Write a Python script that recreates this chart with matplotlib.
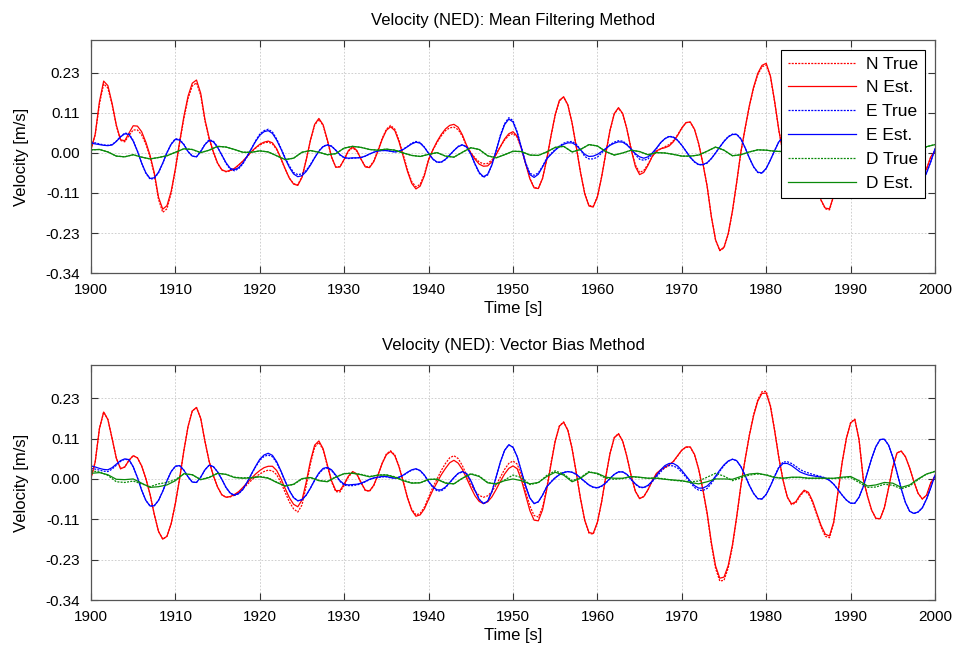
import numpy as np
import matplotlib
matplotlib.use("Agg")
import matplotlib.pyplot as plt
from matplotlib.ticker import FixedLocator, FormatStrFormatter

plt.rcParams['font.family'] = ['Liberation Sans', 'DejaVu Sans']
plt.rcParams['axes.unicode_minus'] = False

# sample times: 0.5 s for N and E, 1 s for D
t_half = np.arange(1900, 2000.25, 0.5)
t_one = np.arange(1900, 2001)

# ---------------- Mean Filtering Method (top) ----------------
n_est_top = [
 .010, .054, .147, .206, .193, .142, .080, .038, .035, .057,
 .078, .077, .061, .031, -.007, -.057, -.127, -.161, -.151, -.110,
 -.045, .032, .104, .163, .200, .209, .171, .096, .043, .003,
 -.029, -.048, -.053, -.050, -.044, -.034, -.023, -.010, .004, .015,
 .025, .031, .034, .029, .012, -.015, -.045, -.072, -.089, -.093,
 -.070, -.020, .037, .082, .099, .081, .038, -.011, -.041, -.040,
 -.018, .007, .018, .007, -.018, -.040, -.042, -.025, .005, .039,
 .065, .075, .064, .032, -.010, -.053, -.087, -.103, -.095, -.065,
 -.020, .009, .033, .053, .069, .079, .082, .074, .052, .022,
 .000, -.018, -.032, -.038, -.037, -.025, -.005, .018, .040, .055,
 .061, .048, .014, -.031, -.074, -.100, -.102, -.073, -.018, .049,
 .110, .151, .161, .138, .086, .017, -.056, -.117, -.152, -.155,
 -.126, -.069, .000, .066, .113, .130, .113, .068, .010, -.039,
 -.062, -.056, -.035, -.010, .006, .012, .015, .020, .032, .050,
 .071, .087, .089, .068, .027, -.030, -.095, -.182, -.249, -.279,
 -.270, -.231, -.166, -.084, .003, .071, .135, .188, .228, .251,
 .257, .221, .148, .065, .000, -.048, -.069, -.065, -.045, -.033,
 -.040, -.065, -.095, -.135, -.158, -.160, -.122, -.039, .047, .115,
 .159, .169, .112, .000, -.049, -.089, -.112, -.113, -.082, -.026,
 .034, .074, .079, .063, .031, -.008, -.041, -.057, -.046, -.011,
 .005]
n_true_top = [
 .010, .052, .140, .198, .186, .138, .078, .036, .032, .050,
 .066, .066, .052, .025, -.012, -.062, -.133, -.170, -.160, -.115,
 -.048, .028, .098, .156, .192, .201, .165, .092, .040, .001,
 -.030, -.049, -.054, -.051, -.045, -.035, -.024, -.011, .003, .014,
 .023, .029, .031, .026, .010, -.017, -.046, -.072, -.088, -.091,
 -.068, -.019, .036, .080, .096, .079, .036, -.012, -.040, -.039,
 -.019, .005, .015, .005, -.018, -.039, -.040, -.023, .008, .042,
 .068, .079, .068, .036, -.005, -.048, -.082, -.097, -.090, -.061,
 -.018, .008, .030, .049, .064, .072, .074, .067, .048, .020,
 .001, -.014, -.026, -.031, -.030, -.020, -.002, .018, .037, .050,
 .056, .045, .012, -.031, -.073, -.099, -.101, -.073, -.018, .048,
 .108, .149, .160, .137, .086, .017, -.055, -.115, -.150, -.153,
 -.125, -.068, .000, .065, .112, .128, .112, .068, .012, -.034,
 -.056, -.050, -.032, -.010, .004, .012, .018, .024, .035, .052,
 .072, .087, .088, .068, .026, -.030, -.095, -.182, -.249, -.280,
 -.272, -.233, -.168, -.086, .002, .069, .133, .185, .224, .247,
 .252, .218, .146, .064, .000, -.048, -.069, -.065, -.045, -.033,
 -.040, -.065, -.095, -.136, -.160, -.163, -.123, -.039, .047, .115,
 .159, .169, .112, .000, -.049, -.089, -.112, -.113, -.082, -.026,
 .034, .074, .079, .063, .031, -.008, -.041, -.057, -.046, -.011,
 .005]
e_est_top = [
 .028, .026, .024, .022, .021, .023, .033, .046, .055, .053,
 .034, .005, -.029, -.057, -.073, -.071, -.055, -.029, .001, .025,
 .039, .037, .024, .004, -.009, -.011, .004, .024, .036, .032,
 .016, -.006, -.028, -.044, -.048, -.042, -.029, -.009, .012, .033,
 .051, .061, .064, .056, .037, .012, -.016, -.041, -.060, -.068,
 -.065, -.053, -.035, -.014, .005, .018, .023, .019, .008, -.005,
 -.013, -.015, -.014, -.014, -.013, -.009, -.003, .002, .006, .007,
 .007, .005, .003, .005, .010, .018, .026, .031, .028, .016,
 -.001, -.017, -.026, -.026, -.018, -.006, .007, .018, .023, .017,
 -.003, -.031, -.056, -.068, -.061, -.034, .006, .048, .081, .097,
 .089, .058, .014, -.031, -.062, -.070, -.061, -.040, -.017, -.004,
 .008, .018, .025, .029, .029, .022, .009, -.004, -.010, -.009,
 -.004, .004, .013, .022, .028, .032, .031, .023, .011, -.002,
 -.011, -.015, -.011, .000, .014, .030, .041, .047, .045, .036,
 .022, .005, -.012, -.025, -.033, -.033, -.028, -.016, .000, .017,
 .033, .046, .053, .053, .040, .015, -.014, -.039, -.055, -.057,
 -.044, -.020, .007, .032, .044, .044, .038, .030, .022, .015,
 .011, .008, .006, .003, .000, -.004, -.015, -.030, -.046, -.060,
 -.069, -.069, -.052, -.022, .018, .059, .092, .112, .113, .096,
 .062, .018, -.028, -.067, -.092, -.098, -.094, -.082, -.057, -.025,
 .012]
e_true_top = [
 .031, .029, .026, .023, .022, .024, .034, .047, .057, .055,
 .036, .006, -.029, -.058, -.075, -.073, -.057, -.030, .001, .026,
 .041, .039, .025, .004, -.009, -.011, .005, .025, .038, .034,
 .017, -.006, -.030, -.047, -.051, -.045, -.031, -.010, .012, .035,
 .054, .064, .068, .060, .040, .014, -.013, -.037, -.056, -.062,
 -.060, -.050, -.033, -.013, .006, .019, .024, .020, .008, -.006,
 -.014, -.016, -.015, -.014, -.013, -.009, -.003, .002, .006, .007,
 .007, .005, .003, .005, .011, .019, .028, .033, .030, .017,
 -.001, -.018, -.027, -.027, -.019, -.006, .007, .019, .024, .018,
 -.003, -.033, -.058, -.070, -.063, -.035, .007, .051, .084, .101,
 .093, .060, .016, -.028, -.058, -.064, -.057, -.038, -.015, -.002,
 .010, .020, .028, .032, .033, .025, .010, -.010, -.017, -.017,
 -.012, .000, .012, .024, .031, .035, .034, .025, .011, -.005,
 -.018, -.021, -.017, -.003, .012, .029, .041, .048, .046, .037,
 .022, .005, -.013, -.026, -.034, -.034, -.029, -.016, .000, .017,
 .034, .047, .054, .054, .041, .015, -.014, -.040, -.056, -.058,
 -.045, -.020, .007, .033, .046, .047, .040, .032, .024, .018,
 .015, .012, .010, .006, .002, -.004, -.015, -.030, -.046, -.060,
 -.069, -.069, -.052, -.022, .018, .059, .092, .112, .113, .096,
 .062, .018, -.028, -.067, -.092, -.098, -.094, -.082, -.057, -.025,
 .012]
d_est_top = [
 .009, .010, .003, -.009, -.011, -.005, -.012, -.017, -.013, -.008,
 .002, .012, .010, .001, .008, .019, .017, .010, .002, .002,
 .006, .003, -.008, -.019, -.015, .002, .007, .002, -.005, -.002,
 .014, .019, .016, .010, .008, .011, .008, .000, -.007, -.010,
 -.004, .001, -.009, -.012, .002, .015, .010, -.008, -.014, -.005,
 .005, .004, -.006, -.007, .003, .016, .019, .003, .010, .024,
 .020, .004, -.006, .000, .008, .004, -.005, .001, .000, -.004,
 -.009, -.009, -.006, .005, .017, .008, -.008, -.005, .003, .009,
 .008, .005, .004, .004, .005, .006, .006, .005, .004, .002,
 -.002, -.012, -.020, -.016, -.010, -.015, -.023, -.018, .000, .018,
 .024]
d_true_top = [
 .009, .010, .003, -.009, -.011, -.005, -.012, -.017, -.013, -.008,
 .002, .012, .010, .001, .008, .019, .017, .010, .002, .002,
 .006, .003, -.008, -.019, -.015, .002, .007, .002, -.005, -.002,
 .014, .019, .016, .010, .008, .011, .008, .000, -.007, -.010,
 -.004, .001, -.009, -.012, .002, .015, .010, -.008, -.014, -.005,
 .005, .004, -.006, -.007, .003, .016, .019, .003, .010, .024,
 .020, .004, -.006, .000, .008, .004, -.005, .001, .000, -.004,
 -.009, -.009, -.006, .005, .017, .008, -.008, -.005, .003, .009,
 .008, .005, .004, .004, .005, .006, .006, .005, .004, .002,
 -.002, -.012, -.020, -.016, -.010, -.015, -.023, -.018, .000, .018,
 .024]

# ---------------- Vector Bias Method (bottom) ----------------
n_est_bot = [
 .002, .049, .143, .190, .169, .115, .059, .029, .034, .053,
 .066, .060, .037, .001, -.044, -.101, -.149, -.171, -.163, -.127,
 -.069, .001, .080, .149, .193, .203, .172, .107, .050, .009,
 -.023, -.045, -.052, -.050, -.044, -.036, -.024, -.011, .002, .014,
 .024, .032, .036, .036, .024, .001, -.027, -.053, -.072, -.079,
 -.060, -.009, .051, .096, .108, .086, .041, -.005, -.033, -.033,
 -.014, .008, .021, .014, -.010, -.032, -.034, -.018, .011, .044,
 .069, .078, .066, .034, -.009, -.054, -.089, -.106, -.102, -.085,
 -.058, -.032, -.010, .012, .030, .046, .053, .045, .027, .002,
 -.024, -.048, -.064, -.070, -.065, -.051, -.030, -.007, .014, .030,
 .037, .029, -.003, -.047, -.090, -.117, -.119, -.088, -.030, .041,
 .107, .150, .161, .138, .086, .017, -.056, -.117, -.152, -.155,
 -.123, -.065, .007, .073, .117, .128, .107, .063, .009, -.035,
 -.056, -.050, -.030, -.005, .016, .026, .033, .040, .050, .066,
 .082, .091, .091, .070, .028, -.030, -.096, -.180, -.247, -.282,
 -.279, -.246, -.187, -.108, -.019, .055, .123, .179, .221, .243,
 .244, .206, .137, .060, -.004, -.051, -.071, -.065, -.046, -.032,
 -.038, -.063, -.098, -.132, -.157, -.162, -.122, -.039, .047, .115,
 .159, .169, .112, .000, -.049, -.089, -.112, -.113, -.082, -.026,
 .034, .074, .079, .063, .031, -.008, -.041, -.057, -.046, -.011,
 .007]
n_true_bot = [
 .002, .049, .143, .190, .169, .115, .059, .029, .034, .053,
 .066, .060, .037, .001, -.044, -.101, -.149, -.171, -.163, -.127,
 -.069, .001, .080, .149, .193, .203, .172, .107, .050, .009,
 -.023, -.045, -.052, -.051, -.046, -.039, -.028, -.016, -.004, .006,
 .014, .021, .025, .023, .012, -.010, -.038, -.065, -.085, -.094,
 -.074, -.020, .043, .090, .104, .083, .038, -.008, -.036, -.037,
 -.018, .006, .019, .013, -.011, -.033, -.035, -.019, .011, .045,
 .071, .080, .068, .036, -.007, -.052, -.086, -.102, -.098, -.080,
 -.052, -.024, .000, .024, .044, .060, .066, .058, .038, .011,
 -.015, -.035, -.047, -.052, -.048, -.036, -.017, .005, .027, .044,
 .051, .042, .010, -.035, -.077, -.104, -.108, -.081, -.025, .045,
 .109, .151, .162, .139, .087, .017, -.057, -.119, -.154, -.157,
 -.124, -.065, .007, .073, .118, .129, .108, .063, .009, -.035,
 -.055, -.050, -.031, -.006, .014, .024, .031, .039, .049, .065,
 .081, .090, .090, .069, .027, -.032, -.100, -.186, -.254, -.290,
 -.288, -.253, -.192, -.110, -.020, .055, .124, .182, .225, .248,
 .249, .209, .139, .061, -.004, -.052, -.073, -.068, -.049, -.035,
 -.042, -.067, -.102, -.137, -.163, -.167, -.125, -.040, .047, .116,
 .160, .170, .112, .000, -.049, -.089, -.112, -.113, -.082, -.026,
 .034, .074, .079, .063, .031, -.008, -.041, -.057, -.046, -.011,
 .007]
e_est_bot = [
 .037, .034, .030, .027, .026, .032, .042, .052, .057, .055,
 .035, .004, -.032, -.061, -.077, -.076, -.061, -.035, -.005, .021,
 .036, .038, .025, .006, -.009, -.010, .005, .026, .039, .035,
 .020, -.001, -.024, -.040, -.046, -.041, -.029, -.009, .014, .036,
 .056, .068, .073, .067, .049, .023, -.006, -.033, -.053, -.062,
 -.059, -.046, -.026, -.003, .017, .030, .033, .026, .011, -.005,
 -.015, -.017, -.016, -.015, -.012, -.007, -.001, .003, .005, .007,
 .007, .004, .002, .005, .011, .019, .026, .029, .024, .011,
 -.007, -.022, -.031, -.031, -.023, -.010, .004, .016, .021, .015,
 -.005, -.033, -.058, -.070, -.063, -.036, .005, .048, .081, .097,
 .090, .063, .022, -.020, -.054, -.070, -.065, -.046, -.022, -.009,
 .003, .012, .018, .021, .019, .013, .003, -.007, -.017, -.023,
 -.025, -.020, -.011, .002, .013, .020, .020, .013, -.001, -.014,
 -.023, -.024, -.018, -.006, .010, .026, .038, .044, .044, .037,
 .024, .009, -.006, -.019, -.026, -.026, -.020, -.008, .008, .025,
 .040, .051, .056, .052, .035, .010, -.018, -.041, -.056, -.057,
 -.044, -.020, .007, .032, .044, .044, .038, .029, .020, .015,
 .011, .009, .007, .005, .002, -.004, -.015, -.030, -.046, -.060,
 -.069, -.069, -.052, -.022, .018, .059, .092, .112, .113, .096,
 .062, .018, -.028, -.067, -.092, -.098, -.094, -.082, -.057, -.025,
 .011]
e_true_bot = [
 .030, .028, .025, .022, .021, .028, .039, .050, .056, .054,
 .034, .004, -.032, -.061, -.077, -.076, -.061, -.035, -.005, .021,
 .036, .038, .025, .006, -.009, -.010, .005, .026, .039, .035,
 .020, -.001, -.025, -.041, -.047, -.042, -.030, -.010, .013, .034,
 .053, .064, .068, .063, .046, .021, -.007, -.033, -.053, -.062,
 -.059, -.046, -.026, -.004, .015, .028, .031, .024, .009, -.007,
 -.018, -.019, -.019, -.017, -.014, -.008, -.002, .002, .004, .006,
 .006, .003, .002, .005, .010, .018, .025, .028, .023, .010,
 -.008, -.024, -.034, -.034, -.025, -.011, .003, .015, .020, .015,
 -.005, -.033, -.058, -.070, -.063, -.036, .005, .048, .081, .097,
 .090, .063, .022, -.020, -.054, -.070, -.065, -.046, -.022, -.008,
 .004, .013, .019, .021, .019, .013, .002, -.008, -.018, -.024,
 -.026, -.021, -.012, .001, .013, .020, .020, .013, -.002, -.015,
 -.024, -.025, -.019, -.008, .006, .020, .034, .038, .037, .031,
 .019, .005, -.010, -.024, -.032, -.033, -.027, -.013, .004, .022,
 .038, .050, .056, .052, .035, .010, -.018, -.041, -.056, -.057,
 -.044, -.020, .008, .034, .048, .049, .044, .036, .027, .021,
 .017, .013, .010, .007, .003, -.004, -.015, -.030, -.046, -.060,
 -.069, -.069, -.052, -.022, .018, .059, .092, .112, .113, .096,
 .062, .018, -.028, -.067, -.092, -.098, -.094, -.082, -.057, -.025,
 .011]
d_est_bot = [
 .016, .018, .012, -.001, -.002, .000, -.012, -.024, -.022, -.017,
 -.005, .015, .012, -.002, .004, .016, .013, .004, .002, .003,
 .006, .002, -.010, -.020, -.015, .001, .004, -.005, -.008, .005,
 .015, .016, .012, .006, .011, .011, .005, -.005, -.012, -.011,
 -.001, -.001, -.012, -.014, .002, .014, .007, -.011, -.014, -.005,
 .000, -.005, -.014, -.010, .007, .019, .011, -.008, .002, .019,
 .016, .005, .002, .002, .007, .005, .002, .002, -.001, -.003,
 -.005, -.010, -.014, -.008, .000, .000, -.001, .007, .014, .016,
 .011, .004, .002, .005, .005, .002, .002, .002, .002, .005,
 .007, -.005, -.020, -.017, -.010, -.012, -.024, -.017, .000, .014,
 .021]
d_true_bot = [
 .023, .020, .010, -.008, -.010, -.006, -.014, -.022, -.014, -.010,
 -.002, .014, .012, -.002, .005, .016, .013, .005, .003, .004,
 .007, .003, -.009, -.020, -.016, .000, .004, -.004, -.007, .006,
 .015, .017, .013, .007, .011, .012, .006, -.004, -.011, -.011,
 -.002, .000, -.011, -.014, .002, .015, .008, -.010, -.015, -.003,
 .011, .004, -.016, -.011, .010, .023, .014, -.005, .004, .021,
 .014, .002, -.001, .001, .006, .004, .002, .003, .000, -.004,
 -.006, -.008, -.006, .005, .016, .008, -.005, .003, .011, .014,
 .012, .005, .002, .004, .004, .002, .002, .002, .001, .003,
 .004, -.010, -.024, -.023, -.015, -.018, -.028, -.020, -.002, .014,
 .022]

y_ticks = [-0.3439, -0.2293, -0.1146, 0.0, 0.1146, 0.2293]
x_ticks = list(range(1900, 2001, 10))
titles = ["Velocity (NED): Mean Filtering Method", "Velocity (NED): Vector Bias Method"]
labels = ["N True", "N Est.", "E True", "E Est.", "D True", "D Est."]

RED, BLUE, GREEN = "#ff0000", "#0000ff", "#0a8a0a"
dot = (0, (1.6, 1.0))

fig = plt.figure(figsize=(9.6, 6.51), dpi=100)
ax1 = fig.add_axes([91/960, 1-273/651, 844/960, 233/651])
ax2 = fig.add_axes([91/960, 1-600/651, 844/960, 235/651])

datasets = [
    (n_true_top, n_est_top, e_true_top, e_est_top, d_true_top, d_est_top),
    (n_true_bot, n_est_bot, e_true_bot, e_est_bot, d_true_bot, d_est_bot),
]

for ax, data, title in zip([ax1, ax2], datasets, titles):
    nt, ne, et, ee, dt, de = data
    ax.plot(t_half, nt, color=RED, ls=dot, lw=0.9, label=labels[0])
    ax.plot(t_half, ne, color=RED, ls='-', lw=0.9, label=labels[1])
    ax.plot(t_half, et, color=BLUE, ls=dot, lw=0.9, label=labels[2])
    ax.plot(t_half, ee, color=BLUE, ls='-', lw=0.9, label=labels[3])
    ax.plot(t_one, dt, color=GREEN, ls=dot, lw=0.9, label=labels[4])
    ax.plot(t_one, de, color=GREEN, ls='-', lw=0.9, label=labels[5])
    ax.set_xlim(1900, 2000)
    ax.set_ylim(-0.3439, 0.3237)
    ax.xaxis.set_major_locator(FixedLocator(x_ticks))
    ax.yaxis.set_major_locator(FixedLocator(y_ticks))
    ax.yaxis.set_major_formatter(FormatStrFormatter('%.2f'))
    ax.grid(True, color='#c8c8c8', ls=(0, (2, 2)), lw=0.6)
    ax.tick_params(direction='in', length=5, width=0.8, top=True, right=True,
                   labelsize=11, color='#333333')
    ax.tick_params(axis='x', pad=7)
    ax.tick_params(axis='y', pad=8)
    for sp in ax.spines.values():
        sp.set_color('#555555')
        sp.set_linewidth(0.9)
    ax.set_title(title, fontsize=12, pad=11)
    ax.set_xlabel("Time [s]", fontsize=12, labelpad=3)
    ax.set_ylabel("Velocity [m/s]", fontsize=12, labelpad=12)

leg = ax1.legend(loc='upper right', fontsize=12.5, frameon=True, fancybox=False,
                 edgecolor='black', framealpha=1, handlelength=3.9,
                 labelspacing=0.5, borderaxespad=0.55, borderpad=0.4,
                 handletextpad=0.6)
leg.get_frame().set_linewidth(0.8)

fig.savefig("out.png", dpi=100)
